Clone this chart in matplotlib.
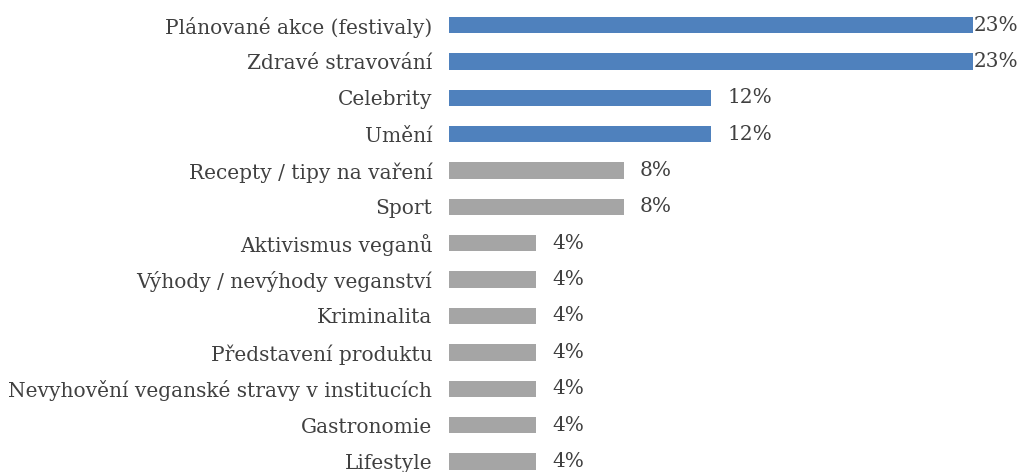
import matplotlib
matplotlib.use('Agg')
import matplotlib.pyplot as plt
import numpy as np

categories = ['Plánované akce (festivaly)', 'Zdravé stravování', 'Celebrity', 'Umění',
              'Recepty / tipy na vaření', 'Sport', 'Aktivismus veganů',
              'Výhody / nevýhody veganství', 'Kriminalita', 'Představení produktu',
              'Nevyhovění veganské stravy v institucích', 'Gastronomie', 'Lifestyle']
values = [23.08, 23.08, 11.54, 11.54, 7.69, 7.69, 3.85, 3.85, 3.85, 3.85, 3.85, 3.85, 3.85]
value_labels = ['23%', '23%', '12%', '12%', '8%', '8%', '4%', '4%', '4%', '4%', '4%', '4%', '4%']

C_BLUE = '#4F81BD'
C_GRAY = '#A5A5A5'
TXT = '#404040'

plt.rcParams['font.family'] = ['DejaVu Serif']

fig = plt.figure(figsize=(10.24, 4.72), dpi=100)
ax = fig.add_axes([449 / 1024, 0, (973 - 449) / 1024, 1])

y = np.arange(len(categories))
colors = [C_BLUE if v > 10 else C_GRAY for v in values]
ax.barh(y, values, height=0.45, color=colors)

# value labels; Excel pushes the longest ones against the bar end
vmax = max(values)
for i, (v, lab) in enumerate(zip(values, value_labels)):
    off = 1 if v == vmax else 16
    ax.annotate(lab, (v, i), xytext=(off, 0), textcoords='offset pixels',
                ha='left', va='center', fontsize=14.5, color=TXT, annotation_clip=False)

ax.set_yticks(y)
ax.set_yticklabels(categories, fontsize=14.5, color=TXT)
ax.tick_params(axis='y', length=0, pad=12)
ax.set_xticks([])
ax.set_xlim(0, vmax)
ax.set_ylim(12.29, -0.6875)
for s in ax.spines.values():
    s.set_visible(False)
ax.patch.set_alpha(0)

fig.savefig('out.png', dpi=100)
